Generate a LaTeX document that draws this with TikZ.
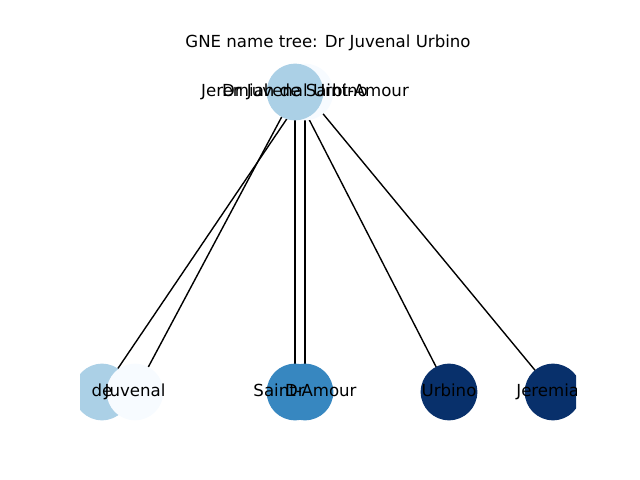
\documentclass[tikz,border=0pt]{standalone}
\usepackage{fontspec}
\setmainfont{DejaVu Sans}
\definecolor{bw}{HTML}{F7FBFF}
\definecolor{bl}{HTML}{ABD0E6}
\definecolor{bm}{HTML}{3787C0}
\definecolor{bd}{HTML}{08306B}
\begin{document}
\begin{tikzpicture}[x=0.72bp,y=-0.72bp,
  vert/.style={circle,inner sep=0pt,minimum size=40.8bp,draw=none},
  lbl/.style={font=\fontsize{12}{14}\selectfont,inner sep=0pt,text height=9.1bp,text depth=2.83bp},
  edge/.style={line width=1bp,black}]
\useasboundingbox (0,0) rectangle (640,480);
\node[font=\fontsize{12}{14}\selectfont,inner sep=0pt,anchor=base] (title) at (328,48) {GNE name tree: Dr Juvenal Urbino};
\begin{scope}
\clip (80,57.6) rectangle (576,422.4);
\coordinate (pDJU) at (295,92);
\coordinate (pJSA) at (305,92);
\coordinate (pDr) at (295,392);
\coordinate (pJuv) at (135,392);
\coordinate (pUrb) at (449,392);
\coordinate (pJer) at (553,392);
\coordinate (pde) at (102,392);
\coordinate (pSA) at (305,392);
% edges
\draw[edge] (pDJU) -- (pDr);
\draw[edge] (pDJU) -- (pJuv);
\draw[edge] (pDJU) -- (pUrb);
\draw[edge] (pJSA) -- (pJer);
\draw[edge] (pJSA) -- (pde);
\draw[edge] (pJSA) -- (pSA);
% nodes
\node[vert,fill=bw] (nJSA) at (pJSA) {};
\node[vert,fill=bl] (nDJU) at (pDJU) {};
\node[vert,fill=bm] (nDr) at (pDr) {};
\node[vert,fill=bl] (nde) at (pde) {};
\node[vert,fill=bw] (nJuv) at (pJuv) {};
\node[vert,fill=bd] (nUrb) at (pUrb) {};
\node[vert,fill=bd] (nJer) at (pJer) {};
\node[vert,fill=bm] (nSA) at (pSA) {};
% labels
\node[lbl] (lJSA) at (pJSA) {Jeremiah de Saint-Amour};
\node[lbl] (lDJU) at (pDJU) {Dr Juvenal Urbino};
\node[lbl] (lDr) at (pDr) {Dr};
\node[lbl] (lde) at (pde) {de};
\node[lbl] (lJuv) at (pJuv) {Juvenal};
\node[lbl] (lUrb) at (pUrb) {Urbino};
\node[lbl] (lJer) at (pJer) {Jeremiah};
\node[lbl] (lSA) at (pSA) {Saint-Amour};
\end{scope}
\end{tikzpicture}
\end{document}
